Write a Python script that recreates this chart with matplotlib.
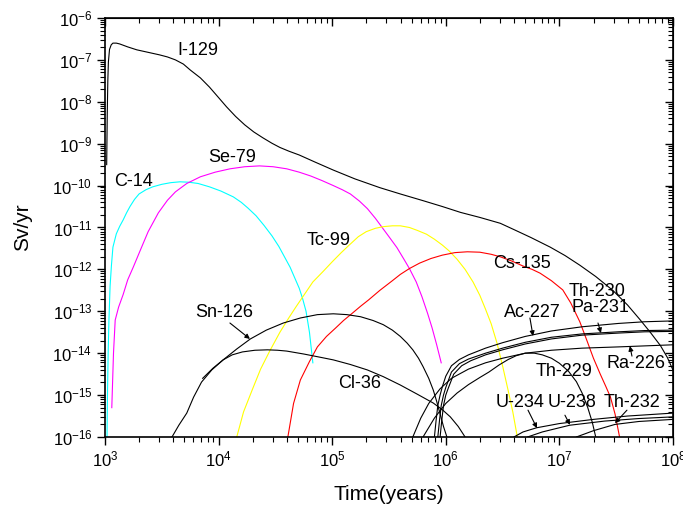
import numpy as np
import matplotlib.pyplot as plt
from matplotlib.ticker import FixedLocator, LogLocator, NullFormatter

plt.rcParams['font.family'] = ['Liberation Sans', 'DejaVu Sans']
plt.rcParams['mathtext.fontset'] = 'custom'
plt.rcParams['mathtext.rm'] = 'Liberation Sans'

# values: log10(time, years) and log10(dose, Sv/yr)
i129_t = [3.015, 3.02, 3.025, 3.03, 3.04, 3.055, 3.07, 3.10, 3.13, 3.20, 3.28, 3.38, 3.48, 3.55, 3.62, 3.69,
          3.75, 3.84, 3.92, 4.00, 4.07, 4.15, 4.23, 4.31, 4.39, 4.47, 4.54, 4.62, 4.71, 4.85, 5.01, 5.20,
          5.42, 5.60, 5.80, 5.97, 6.13, 6.30, 6.48, 6.60, 6.75, 6.92, 7.05, 7.18, 7.32, 7.47, 7.60, 7.71,
          7.80, 7.89, 7.95, 8.0]
i129_d = [-9.5, -8.3, -7.5, -7.05, -6.75, -6.64, -6.60, -6.60, -6.62, -6.69, -6.76, -6.82, -6.88, -6.93,
          -7.0, -7.1, -7.24, -7.43, -7.65, -7.9, -8.12, -8.35, -8.55, -8.72, -8.86, -8.99, -9.09, -9.18,
          -9.27, -9.44, -9.63, -9.84, -10.05, -10.2, -10.36, -10.5, -10.64, -10.76, -10.9, -11.05, -11.24,
          -11.47, -11.67, -11.9, -12.17, -12.5, -12.85, -13.2, -13.5, -13.82, -14.1, -14.40]

c14_t = [3.018, 3.022, 3.028, 3.035, 3.045, 3.057, 3.07, 3.10, 3.13, 3.16, 3.19, 3.22, 3.26, 3.30, 3.36,
         3.42, 3.50, 3.58, 3.66, 3.74, 3.82, 3.92, 4.02, 4.13, 4.20, 4.26, 4.33, 4.40, 4.47, 4.53, 4.58,
         4.63, 4.67, 4.71, 4.74, 4.77, 4.80, 4.83]
c14_d = [-16, -15.0, -14.0, -13.2, -12.4, -11.9, -11.47, -11.15, -10.97, -10.82, -10.65, -10.5, -10.33,
         -10.2, -10.1, -10.03, -9.97, -9.93, -9.91, -9.92, -9.95, -10.03, -10.13, -10.27, -10.40, -10.54,
         -10.72, -10.95, -11.2, -11.45, -11.7, -11.95, -12.2, -12.45, -12.7, -13.0, -13.5, -14.23]

se79_t = [3.06, 3.075, 3.09, 3.12, 3.16, 3.20, 3.25, 3.31, 3.38, 3.47, 3.55, 3.62, 3.72, 3.84, 3.97, 4.10,
          4.23, 4.36, 4.48, 4.60, 4.71, 4.81, 4.91, 5.01, 5.09, 5.16, 5.24, 5.31, 5.38, 5.44, 5.50, 5.57,
          5.63, 5.68, 5.74, 5.79, 5.84, 5.88, 5.92, 5.96]
se79_d = [-15.3, -14.0, -13.21, -12.9, -12.6, -12.25, -11.94, -11.55, -11.1, -10.65, -10.35, -10.15,
          -9.95, -9.79, -9.68, -9.60, -9.55, -9.53, -9.55, -9.60, -9.68, -9.77, -9.88, -10.0, -10.1,
          -10.2, -10.37, -10.55, -10.78, -11.0, -11.22, -11.48, -11.75, -11.98, -12.3, -12.65, -13.05,
          -13.4, -13.8, -14.23]

tc99_t = [4.16, 4.22, 4.30, 4.37, 4.45, 4.54, 4.62, 4.68, 4.74, 4.83, 4.92, 5.00, 5.08, 5.15, 5.23, 5.30,
          5.38, 5.45, 5.53, 5.60, 5.68, 5.75, 5.83, 5.90, 5.97, 6.03, 6.10, 6.17, 6.24, 6.30, 6.35, 6.40,
          6.45, 6.50, 6.55, 6.59, 6.63]
tc99_d = [-16, -15.4, -14.85, -14.38, -13.95, -13.5, -13.15, -12.9, -12.66, -12.3, -12.05, -11.82, -11.6,
          -11.42, -11.22, -11.1, -11.02, -10.98, -10.96, -10.96, -11.0, -11.07, -11.16, -11.28, -11.42,
          -11.56, -11.76, -12.0, -12.3, -12.62, -12.95, -13.3, -13.75, -14.3, -14.9, -15.4, -16]

cs135_t = [4.61, 4.66, 4.72, 4.80, 4.87, 4.95, 5.03, 5.10, 5.18, 5.25, 5.32, 5.42, 5.53, 5.60, 5.68, 5.77,
           5.87, 5.97, 6.08, 6.19, 6.30, 6.40, 6.48, 6.58, 6.68, 6.76, 6.83, 6.93, 7.03, 7.10, 7.18, 7.24,
           7.30, 7.36, 7.41, 7.45, 7.49, 7.53]
cs135_d = [-16, -15.2, -14.64, -14.2, -13.85, -13.6, -13.4, -13.22, -13.04, -12.88, -12.73, -12.5, -12.27,
           -12.12, -11.98, -11.85, -11.74, -11.66, -11.60, -11.58, -11.59, -11.64, -11.70, -11.8, -11.92,
           -12.0, -12.09, -12.27, -12.49, -12.8, -13.25, -13.68, -14.12, -14.5, -14.8, -15.05, -15.45, -16]

sn126_t = [3.59, 3.65, 3.72, 3.78, 3.85, 3.94, 4.04, 4.16, 4.28, 4.42, 4.57, 4.72, 4.87, 5.01, 5.13, 5.25,
           5.36, 5.45, 5.53, 5.60, 5.66, 5.71, 5.76, 5.80, 5.85, 5.89, 5.92, 5.95, 5.98, 6.01]
sn126_d = [-16, -15.72, -15.43, -15.05, -14.69, -14.4, -14.16, -13.9, -13.66, -13.45, -13.28, -13.16,
           -13.08, -13.06, -13.08, -13.13, -13.22, -13.32, -13.45, -13.6, -13.76, -13.92, -14.12, -14.32,
           -14.6, -14.88, -15.15, -15.45, -15.75, -16]

cl36_t = [3.86, 3.95, 4.04, 4.12, 4.21, 4.32, 4.43, 4.52, 4.60, 4.75, 4.90, 5.01, 5.16, 5.31, 5.45, 5.60,
          5.75, 5.89, 5.97, 6.04, 6.11, 6.17]
cl36_d = [-14.6, -14.36, -14.16, -14.04, -13.97, -13.93, -13.92, -13.93, -13.95, -14.02, -14.1, -14.16,
          -14.27, -14.40, -14.56, -14.76, -14.98, -15.19, -15.35, -15.52, -15.75, -16]

ac227_t = [5.90, 5.915, 5.93, 5.95, 5.97, 6.0, 6.05, 6.12, 6.2, 6.35, 6.5, 6.7, 6.93, 7.2, 7.52, 7.75, 8.0]
ac227_d = [-16, -15.6, -15.25, -15.0, -14.8, -14.55, -14.3, -14.15, -14.04, -13.88, -13.75, -13.6, -13.47,
           -13.37, -13.29, -13.25, -13.23]

pa231_t = [5.93, 5.945, 5.96, 5.98, 6.0, 6.05, 6.12, 6.2, 6.35, 6.5, 6.7, 6.93, 7.2, 7.52, 7.75, 8.0]
pa231_d = [-16, -15.6, -15.25, -15.0, -14.82, -14.45, -14.25, -14.14, -14.0, -13.88, -13.74, -13.62,
           -13.54, -13.49, -13.46, -13.45]

th230_t = [5.95, 5.965, 5.98, 6.0, 6.02, 6.07, 6.14, 6.22, 6.35, 6.5, 6.7, 6.93, 7.2, 7.52, 7.75, 8.0]
th230_d = [-16, -15.6, -15.25, -15.0, -14.85, -14.5, -14.3, -14.18, -14.04, -13.92, -13.78, -13.66,
           -13.57, -13.52, -13.49, -13.48]

ra226_t = [5.71, 5.78, 5.85, 5.95, 6.05, 6.2, 6.35, 6.5, 6.7, 6.93, 7.2, 7.52, 8.0]
ra226_d = [-16, -15.55, -15.2, -14.85, -14.6, -14.38, -14.23, -14.12, -14.0, -13.93, -13.88, -13.85, -13.80]

th229_t = [5.80, 5.9, 6.0, 6.1, 6.2, 6.3, 6.38, 6.47, 6.55, 6.62, 6.7, 6.78, 6.85, 6.93, 7.0, 7.08, 7.15,
           7.2, 7.25, 7.29, 7.32]
th229_d = [-16, -15.55, -15.2, -14.95, -14.75, -14.58, -14.45, -14.28, -14.15, -14.06, -14.0, -14.0, -14.04,
           -14.12, -14.24, -14.43, -14.68, -14.95, -15.3, -15.65, -16]

u234_t = [6.60, 6.68, 6.80, 7.0, 7.3, 7.6, 8.0]
u234_d = [-16, -15.88, -15.78, -15.68, -15.58, -15.5, -15.43]

u238_t = [6.72, 6.85, 7.09, 7.4, 7.7, 8.0]
u238_d = [-16, -15.88, -15.72, -15.62, -15.56, -15.52]

th232_t = [7.15, 7.3, 7.49, 7.7, 8.0]
th232_d = [-16, -15.85, -15.70, -15.63, -15.58]

curves = [
    (i129_t, i129_d, 'black'), (c14_t, c14_d, '#00ffff'), (se79_t, se79_d, '#ff00ff'),
    (tc99_t, tc99_d, '#ffff00'), (cs135_t, cs135_d, '#ff0000'), (sn126_t, sn126_d, 'black'),
    (cl36_t, cl36_d, 'black'), (ac227_t, ac227_d, 'black'), (pa231_t, pa231_d, 'black'),
    (th230_t, th230_d, 'black'), (ra226_t, ra226_d, 'black'), (th229_t, th229_d, 'black'),
    (u234_t, u234_d, 'black'), (u238_t, u238_d, 'black'), (th232_t, th232_d, 'black'),
]

# curve labels and where they sit (data coords)
names = ['I-129', 'Se-79', 'C-14', 'Tc-99', 'Cs-135', 'Sn-126', 'Cl-36', 'Th-230', 'Pa-231',
         'Ac-227', 'Ra-226', 'Th-229', 'U-234', 'U-238', 'Th-232']
name_pos = [(6.6e3, 1.72e-7), (1.31e4, 4.56e-10), (1.80e3, 1.22e-10), (9.4e4, 5.0e-12),
            (4.69e6, 1.42e-12), (1.12e4, 9.1e-14), (1.76e5, 1.84e-15), (2.14e7, 2.89e-13),
            (2.32e7, 1.20e-13), (5.74e6, 9.6e-14), (4.72e7, 5.8e-15), (1.10e7, 3.56e-15),
            (4.50e6, 6.5e-16), (1.29e7, 6.5e-16), (4.36e7, 6.5e-16)]

# little arrows from label to curve: (tail, head) in log10 units
arrows = [((4.100, -13.28), (4.276, -13.66)),
          ((6.741, -13.16), (6.768, -13.59)),
          ((7.340, -13.28), (7.366, -13.52)),
          ((7.639, -14.07), (7.621, -13.83)),
          ((6.724, -15.36), (6.803, -15.79)),
          ((7.049, -15.48), (7.093, -15.71)),
          ((7.595, -15.36), (7.489, -15.67))]

fig = plt.figure(figsize=(6.83, 5.08), dpi=100)
ax = fig.add_axes([0.1537, 0.1398, 0.8316, 0.8248])

for t, d, c in curves:
    ax.plot(10 ** np.array(t), 10 ** np.array(d), color=c, lw=0.8)

for name, (x, y) in zip(names, name_pos):
    ax.text(x, y, name, fontsize=13, ha='center', va='center')

for (t0, d0), (t1, d1) in arrows:
    ax.annotate('', xy=(10 ** t1, 10 ** d1), xytext=(10 ** t0, 10 ** d0),
                arrowprops=dict(arrowstyle='-|>', color='black', lw=0.8, mutation_scale=7,
                                shrinkA=0, shrinkB=0))

ax.set_xscale('log')
ax.set_yscale('log')
ax.set_xlim(1e3, 1e8)
ax.set_ylim(1e-16, 1e-6)

xmaj = [10.0 ** k for k in range(3, 9)]
ymaj = [10.0 ** k for k in range(-16, -5)]
ax.xaxis.set_major_locator(FixedLocator(xmaj))
ax.yaxis.set_major_locator(FixedLocator(ymaj))
ax.xaxis.set_minor_locator(LogLocator(base=10, subs=np.arange(2, 10), numticks=100))
ax.yaxis.set_minor_locator(LogLocator(base=10, subs=np.arange(2, 10), numticks=100))
ax.xaxis.set_minor_formatter(NullFormatter())
ax.yaxis.set_minor_formatter(NullFormatter())

ax.tick_params(which='major', direction='out', length=6, width=1.0, labelsize=12, pad=3)
ax.tick_params(which='minor', direction='out', length=3.5, width=0.8)

# inward ticks on top and right, no labels
top = ax.secondary_xaxis('top')
right = ax.secondary_yaxis('right')
top.xaxis.set_major_locator(FixedLocator(xmaj))
top.xaxis.set_minor_locator(LogLocator(base=10, subs=np.arange(2, 10), numticks=100))
right.yaxis.set_major_locator(FixedLocator(ymaj))
right.yaxis.set_minor_locator(LogLocator(base=10, subs=np.arange(2, 10), numticks=100))
for sec in (top, right):
    sec.tick_params(which='major', direction='in', length=6, width=1.0)
    sec.tick_params(which='minor', direction='in', length=3.5, width=0.8)
top.tick_params(which='both', labeltop=False)
right.tick_params(which='both', labelright=False)

for s in ax.spines.values():
    s.set_linewidth(1.2)

ax.set_xlabel('Time(years)', fontsize=15, labelpad=11)
ax.set_ylabel('Sv/yr', fontsize=15, labelpad=15)

fig.savefig('out.png', dpi=100)
